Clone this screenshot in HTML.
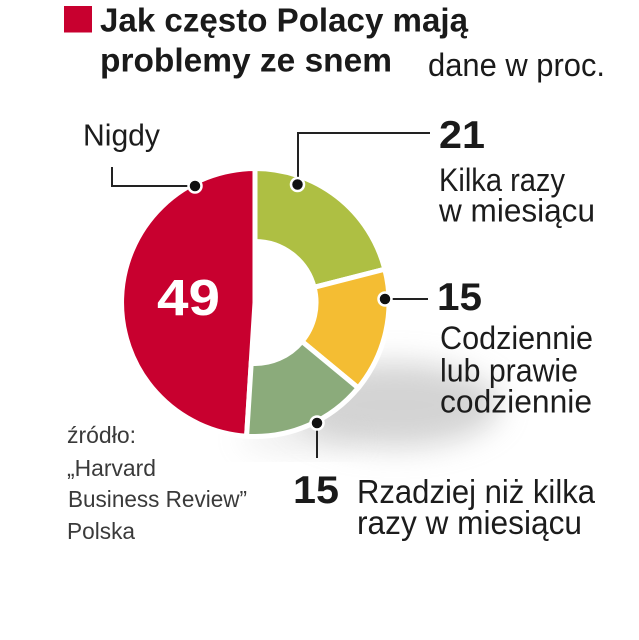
<!DOCTYPE html>
<html>
<head>
<meta charset="utf-8">
<style>
  html,body{margin:0;padding:0;background:#fff;}
  svg{display:block;}
  text{font-family:"Liberation Sans","Noto Sans CJK SC",sans-serif;}
</style>
</head>
<body>
<svg width="639" height="640" viewBox="0 0 639 640" xmlns="http://www.w3.org/2000/svg">
  <defs>
    <filter id="blur" x="-50%" y="-50%" width="200%" height="200%">
      <feGaussianBlur stdDeviation="15"/>
    </filter>
  </defs>
  <rect x="0" y="0" width="639" height="640" fill="#fff"/>

  <!-- shadow -->
  <ellipse cx="395" cy="405" rx="105" ry="42" fill="#a8a8a8" opacity="0.5" filter="url(#blur)"/>
  <ellipse cx="300" cy="438" rx="60" ry="12" fill="#bbb" opacity="0.3" filter="url(#blur)"/>

  <!-- donut -->
  <g stroke="#fff" stroke-width="5" stroke-linejoin="miter">
    <path d="M255,302.5 L246.6,436.2 A134,134 0 0 1 255,168.5 Z" fill="#C8002F"/>
    <path d="M255,168.5 A134,134 0 0 1 384.8,269.2 L314.1,287.3 A61,61 0 0 0 255,241.5 Z" fill="#AEBF43"/>
    <path d="M384.8,269.2 A134,134 0 0 1 358.2,387.9 L302.0,341.4 A61,61 0 0 0 314.1,287.3 Z" fill="#F4BD33"/>
    <path d="M358.2,387.9 A134,134 0 0 1 246.6,436.2 L251.2,363.4 A61,61 0 0 0 302.0,341.4 Z" fill="#8BAB7B"/>
  </g>

  <!-- connector lines -->
  <g stroke="#222" stroke-width="2" fill="none">
    <polyline points="112,167 112,186 195,186"/>
    <polyline points="298,185 298,133 430,133"/>
    <line x1="385" y1="299" x2="428" y2="299"/>
    <line x1="317" y1="423" x2="317" y2="458"/>
  </g>
  <g fill="#111" stroke="#fff" stroke-width="2.5">
    <circle cx="195" cy="186" r="6.5"/>
    <circle cx="297.5" cy="184.5" r="6.5"/>
    <circle cx="385" cy="299" r="6.5"/>
    <circle cx="317" cy="423" r="6.5"/>
  </g>

  <!-- title -->
  <rect x="64" y="6" width="28" height="26.5" fill="#C8002F"/>
  <text x="100" y="31.7" font-size="33" font-weight="bold" fill="#1a1a1a" textLength="368" lengthAdjust="spacingAndGlyphs">Jak często Polacy mają</text>
  <text x="100" y="71.7" font-size="33" font-weight="bold" fill="#1a1a1a" textLength="292" lengthAdjust="spacingAndGlyphs">problemy ze snem</text>
  <text x="428" y="76" font-size="32" fill="#1a1a1a" textLength="177" lengthAdjust="spacingAndGlyphs">dane w proc.</text>

  <!-- labels -->
  <text x="83" y="145.7" font-size="31" fill="#1c1c1c" textLength="77" lengthAdjust="spacingAndGlyphs">Nigdy</text>

  <text x="157" y="315" font-size="51" font-weight="bold" fill="#fff" textLength="63" lengthAdjust="spacingAndGlyphs">49</text>

  <text x="439" y="148" font-size="39" font-weight="bold" fill="#1a1a1a" textLength="46" lengthAdjust="spacingAndGlyphs">21</text>
  <text x="439" y="191" font-size="32" fill="#1c1c1c" textLength="126" lengthAdjust="spacingAndGlyphs">Kilka razy</text>
  <text x="439" y="221.7" font-size="32" fill="#1c1c1c" textLength="156" lengthAdjust="spacingAndGlyphs">w miesiącu</text>

  <text x="437" y="310" font-size="39" font-weight="bold" fill="#1a1a1a" textLength="45" lengthAdjust="spacingAndGlyphs">15</text>
  <text x="440" y="349" font-size="32" fill="#1c1c1c" textLength="153" lengthAdjust="spacingAndGlyphs">Codziennie</text>
  <text x="440" y="381.7" font-size="32" fill="#1c1c1c" textLength="138" lengthAdjust="spacingAndGlyphs">lub prawie</text>
  <text x="440" y="412.7" font-size="32" fill="#1c1c1c" textLength="152" lengthAdjust="spacingAndGlyphs">codziennie</text>

  <text x="293" y="503" font-size="39" font-weight="bold" fill="#1a1a1a" textLength="46" lengthAdjust="spacingAndGlyphs">15</text>
  <text x="357" y="503" font-size="33" fill="#1c1c1c" textLength="238" lengthAdjust="spacingAndGlyphs">Rzadziej niż kilka</text>
  <text x="357" y="534" font-size="33" fill="#1c1c1c" textLength="225" lengthAdjust="spacingAndGlyphs">razy w miesiącu</text>

  <!-- source -->
  <g font-size="23.5" fill="#3a3a3a">
    <text x="67" y="443" textLength="69" lengthAdjust="spacingAndGlyphs">źródło:</text>
    <text x="67" y="476" textLength="89" lengthAdjust="spacingAndGlyphs">„Harvard</text>
    <text x="68" y="507" textLength="179" lengthAdjust="spacingAndGlyphs">Business Review”</text>
    <text x="67" y="539" textLength="68" lengthAdjust="spacingAndGlyphs">Polska</text>
  </g>
</svg>
</body>
</html>
